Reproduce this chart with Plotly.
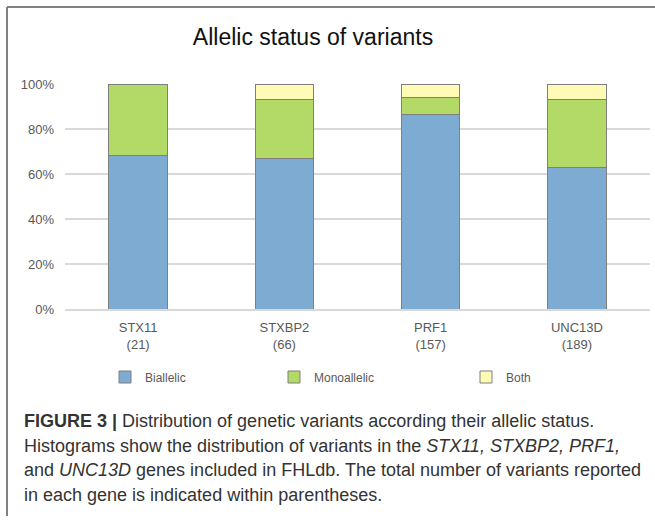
import plotly.graph_objects as go

# ---- data ----
genes = ["STX11", "STXBP2", "PRF1", "UNC13D"]
counts = [21, 66, 157, 189]
biallelic = [68.3, 67.1, 86.5, 63.1]
monoallelic = [31.7, 26.2, 7.7, 29.8]
both = [0.0, 6.7, 5.8, 7.1]
y_ticks = [0, 20, 40, 60, 80, 100]
y_tick_labels = [f"{v}%" for v in y_ticks]

categories = [f"{g}<br>({n})" for g, n in zip(genes, counts)]

W, H = 655, 521
L, R, T, B = 65, 5, 84, 212
PW, PH = W - L - R, H - T - B


def px(x):
    return (x - L) / PW


def py(y):
    return (H - B - y) / PH


FONT = "Liberation Sans, Arial, sans-serif"
line_style = dict(color="#7f7f7f", width=1)
fig = go.Figure()
fig.add_trace(go.Bar(x=categories, y=biallelic, name="Biallelic",
                     marker=dict(color="#7eabd2", line=line_style)))
fig.add_trace(go.Bar(x=categories, y=monoallelic, name="Monoallelic",
                     marker=dict(color="#b3d966", line=line_style), legend="legend2"))
fig.add_trace(go.Bar(x=categories, y=both, name="Both",
                     marker=dict(color="#fffbb6", line=line_style), legend="legend3"))

leg_font = dict(family=FONT, size=12, color="#595959")
leg_common = dict(orientation="h", xref="container", yref="container",
                  xanchor="left", yanchor="middle", y=1 - 377 / H,
                  font=leg_font, bgcolor="rgba(0,0,0,0)", itemwidth=30)

shapes = [
    dict(type="line", xref="paper", yref="paper", x0=px(7), x1=px(660), y0=py(7), y1=py(7),
         line=dict(color="#808080", width=2)),
    dict(type="line", xref="paper", yref="paper", x0=px(7), x1=px(7), y0=py(7), y1=py(516),
         line=dict(color="#808080", width=2)),
]

cap_font = dict(family=FONT, size=18, color="#333333")
cap_lines = [
    "<b>FIGURE 3 |</b> Distribution of genetic variants according their allelic status.",
    "Histograms show the distribution of variants in the <i>STX11, STXBP2, PRF1,</i>",
    "and <i>UNC13D</i> genes included in FHLdb. The total number of variants reported",
    "in each gene is indicated within parentheses.",
]
cap_y = [421, 446, 470, 495]
annotations = [
    dict(text=t, xref="paper", yref="paper", x=px(22), y=py(yy), xanchor="left",
         yanchor="middle", showarrow=False, font=cap_font)
    for t, yy in zip(cap_lines, cap_y)
]

fig.update_layout(
    width=W, height=H,
    margin=dict(l=L, r=R, t=T, b=B),
    barmode="stack",
    bargap=0.6,
    showlegend=True,
    plot_bgcolor="white", paper_bgcolor="white",
    title=dict(text="Allelic status of variants", xref="container", yref="container",
               x=313 / W, y=1 - 37 / H, xanchor="center", yanchor="middle",
               font=dict(family=FONT, size=23, color="#111111")),
    legend=dict(**leg_common, x=(147 - 42) / W),
    legend2=dict(**leg_common, x=(316 - 42) / W),
    legend3=dict(**leg_common, x=(508 - 42) / W),
    shapes=shapes,
    annotations=annotations,
    font=dict(family=FONT, size=13, color="#595959"),
)
fig.update_yaxes(range=[0, 100], tickvals=y_ticks, ticktext=y_tick_labels, showgrid=True,
                 gridcolor="#d9d9d9", gridwidth=1.5, zeroline=False, showline=False,
                 ticklabelstandoff=10,
                 tickfont=dict(family=FONT, size=13, color="#595959"))
fig.update_xaxes(showline=True, linecolor="#d9d9d9", linewidth=1.5, showgrid=False,
                 ticklabelstandoff=6,
                 tickfont=dict(family=FONT, size=13, color="#595959"))

fig.write_html("out.html", post_script="document.body.style.margin='0';",
               config={"displayModeBar": False})
